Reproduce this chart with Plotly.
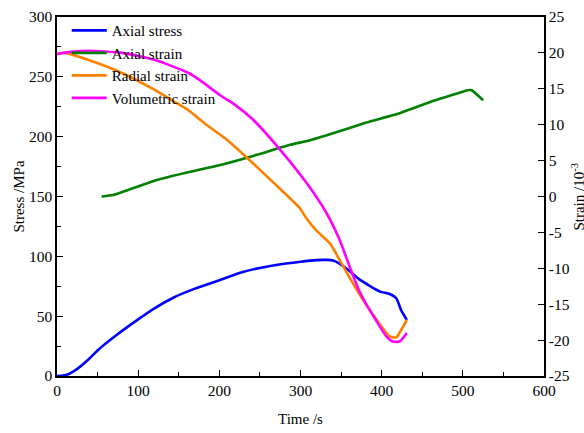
import plotly.graph_objects as go

# Axial stress (left axis, MPa)
t_stress = [0, 5, 12, 25, 38, 51, 73, 96, 120, 145, 170, 195, 229, 270, 300, 320, 332, 340, 348, 360, 373, 386, 398, 410, 418, 424, 431]
axial_stress = [0, 0.2, 1, 6, 13.4, 22, 34, 45.4, 56.5, 66, 73, 78.8, 87, 92.8, 95.5, 96.8, 97, 96.5, 94, 88, 80.5, 75, 70.5, 68.5, 65, 55, 46.8]

# Axial strain (right axis, 10^-3)
t_axial = [55, 69, 123, 164, 205, 246, 287, 311, 340, 381, 422, 463, 500, 506, 511, 525]
axial_strain = [0, 0.2, 2.3, 3.45, 4.5, 5.8, 7.2, 7.8, 8.8, 10.3, 11.6, 13.3, 14.6, 14.8, 14.8, 13.4]

# Radial strain (right axis)
t_radial = [0, 10, 39, 80, 121, 143, 162, 184, 207, 234, 266, 299, 307, 320, 336, 352, 361, 377, 394, 410, 418, 424, 431]
radial_strain = [19.85, 20, 19.0, 17.2, 14.8, 13.3, 12.0, 10.0, 8.1, 5.4, 2.0, -1.6, -3.0, -4.8, -6.5, -9.6, -11.4, -14.4, -17.2, -19.5, -19.6, -18.6, -17.2]

# Volumetric strain (right axis)
t_vol = [0, 20, 39, 80, 121, 162, 176, 201, 219, 242, 275, 308, 332, 348, 362, 373, 390, 406, 414, 422, 431]
vol_strain = [19.85, 20.2, 20.3, 20.0, 19.0, 17.2, 16.2, 14.1, 12.8, 10.65, 6.5, 1.8, -2.3, -6.0, -10.2, -13.3, -16.7, -19.5, -20.2, -20.2, -19.0]

# Right axis tick labels (hyphen minus as in the reference)
strain_ticks = [-25, -20, -15, -10, -5, 0, 5, 10, 15, 20, 25]
strain_tick_labels = ["-25", "-20", "-15", "-10", "-5", "0", "5", "10", "15", "20", "25"]

FONT = "Liberation Serif, Times New Roman, serif"
LW = 2.6

fig = go.Figure()
fig.add_trace(go.Scatter(x=t_stress, y=axial_stress, name="Axial stress", mode="lines",
                         line=dict(color="#0000FF", width=LW, shape="spline", smoothing=0.6), yaxis="y"))
fig.add_trace(go.Scatter(x=t_axial, y=axial_strain, name="Axial strain", mode="lines",
                         line=dict(color="#008000", width=LW, shape="spline", smoothing=0.4), yaxis="y2"))
fig.add_trace(go.Scatter(x=t_radial, y=radial_strain, name="Radial strain", mode="lines",
                         line=dict(color="#FF8000", width=LW, shape="spline", smoothing=0.6), yaxis="y2"))
fig.add_trace(go.Scatter(x=t_vol, y=vol_strain, name="Volumetric strain", mode="lines",
                         line=dict(color="#FF00FF", width=LW, shape="spline", smoothing=0.6), yaxis="y2"))

axis_common = dict(showgrid=False, zeroline=False, showline=True, linecolor="black", linewidth=1.5,
                   ticks="inside", tickcolor="black", ticklen=6, tickwidth=1.2, automargin=False,
                   tickfont=dict(family=FONT, size=15.5, color="black"))

title_font = dict(family=FONT, size=15, color="black")

fig.update_layout(
    width=584, height=433,
    margin=dict(l=57, r=40, t=17, b=57),
    paper_bgcolor="white", plot_bgcolor="white",
    font=dict(family=FONT, size=15, color="black"),
    showlegend=True,
    legend=dict(x=0.02, y=1.008, xanchor="left", yanchor="top", bgcolor="rgba(0,0,0,0)",
                font=dict(family=FONT, size=15, color="black"), tracegroupgap=0, itemwidth=35),
    xaxis=dict(range=[0, 600], dtick=100, mirror=True,
               minor=dict(dtick=50, ticks="inside", ticklen=4, tickcolor="black"),
               **axis_common),
    yaxis=dict(range=[0, 300], dtick=50,
               minor=dict(dtick=25, ticks="inside", ticklen=4, tickcolor="black"),
               **axis_common),
    yaxis2=dict(range=[-25, 25], tickmode="array", tickvals=strain_ticks, ticktext=strain_tick_labels,
                overlaying="y", side="right", **axis_common),
    annotations=[
        dict(text="Time /s", xref="paper", yref="paper", x=0.5, y=-0.12, xanchor="center",
             yanchor="middle", showarrow=False, font=title_font),
        dict(text="Stress /MPa", xref="paper", yref="paper", x=-0.08, y=0.5, xanchor="center",
             yanchor="middle", textangle=-90, showarrow=False, font=title_font),
        dict(text="Strain /10<sup>-3</sup>", xref="paper", yref="paper", x=1.068, y=0.5,
             xanchor="center", yanchor="middle", textangle=-90, showarrow=False, font=title_font),
    ],
)

fig.write_html("out.html")
